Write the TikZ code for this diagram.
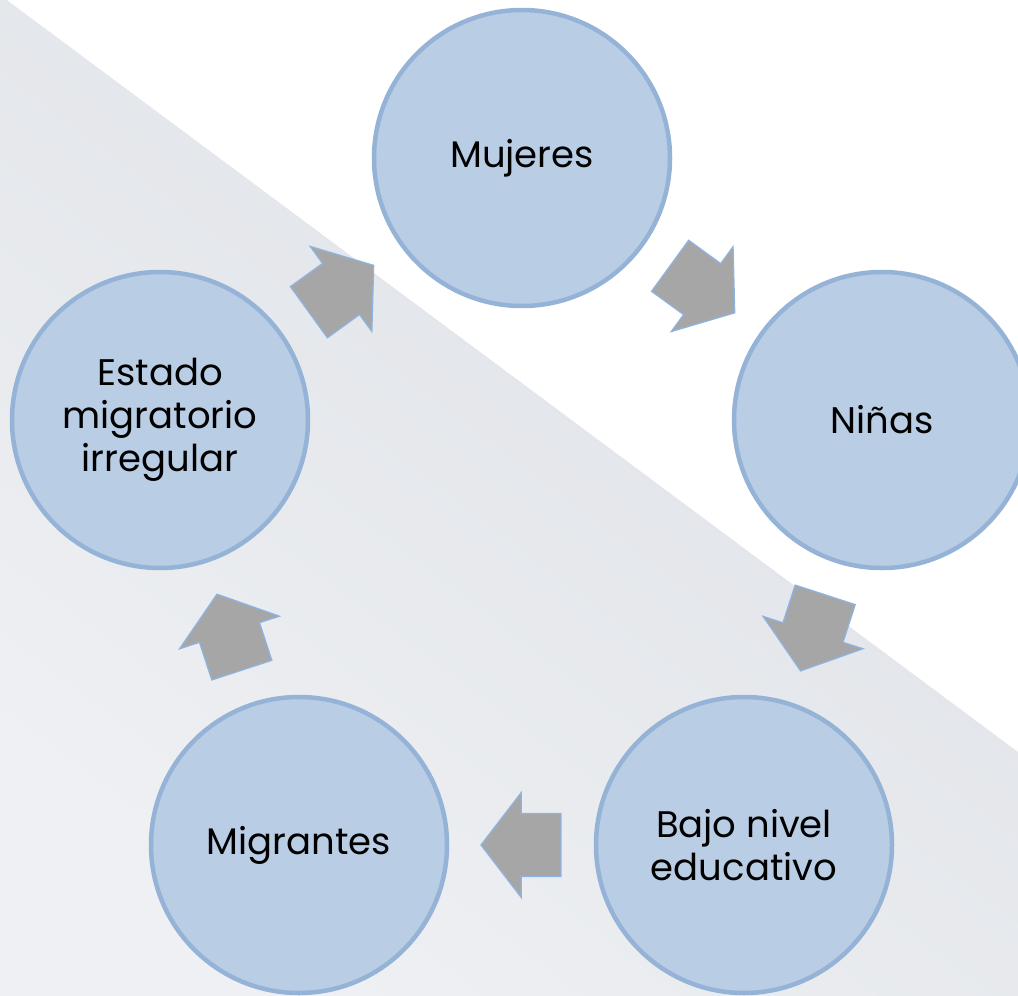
\documentclass[tikz,border=0pt]{standalone}
\usepackage{fontspec}
\setmainfont{Poppins}
\usetikzlibrary{shapes.arrows}
\definecolor{circfill}{HTML}{B9CDE5}
\definecolor{circline}{HTML}{95B3D7}
\definecolor{arrfill}{HTML}{A6A6A6}
\definecolor{arrline}{HTML}{8EB4E3}
\definecolor{bgdark}{HTML}{DDE0E5}
\definecolor{bglight}{HTML}{EEF0F3}
\tikzstyle{group} = [draw=circline, fill=circfill, line width=4.5pt, circle, minimum size=296pt, inner sep=0pt, align=center, font={\fontsize{37}{43}\selectfont}]
\tikzstyle{flow} = [draw=arrline, fill=arrfill, line width=1.2pt, single arrow, minimum height=80pt, minimum width=104pt, single arrow head extend=21pt, single arrow tip angle=105, inner xsep=0pt, inner ysep=31pt, sloped, allow upside down, anchor=tail, pos=0.41]

\begin{document}
\begin{tikzpicture}[x=1pt,y=-1pt]
    \useasboundingbox (0,0) rectangle (1018,996);
    \clip (0,0) rectangle (1018,996);
    \shade[top color=bgdark, bottom color=bglight, shading angle=-37] (0,-5) -- (1018,752) -- (1018,996) -- (0,996) -- cycle;
    \node[group](mu) at (522,158){Mujeres};
    \node[group](ni) at (882,420){Niñas};
    \node[group](ba) at (744,845){Bajo nivel\\educativo};
    \node[group](mi) at (299,845){Migrantes};
    \node[group](es) at (160,420){Estado\\migratorio\\irregular};
    \path (mu.center) -- node[flow](f1){} (ni.center);
    \path (ni.center) -- node[flow](f2){} (ba.center);
    \path (ba.center) -- node[flow](f3){} (mi.center);
    \path (mi.center) -- node[flow](f4){} (es.center);
    \path (es.center) -- node[flow](f5){} (mu.center);
  \end{tikzpicture}
\end{document}
